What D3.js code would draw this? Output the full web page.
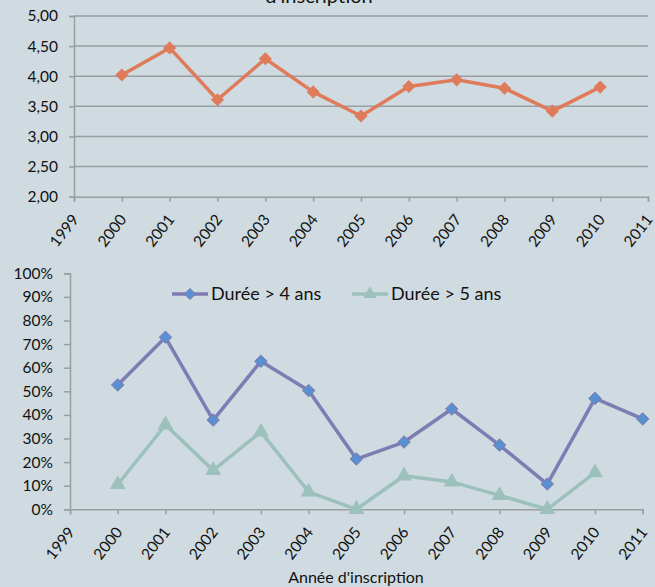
<!DOCTYPE html>
<html>
<head>
<meta charset="utf-8">
<script src="https://cdn.jsdelivr.net/npm/d3@7"></script>
<style>
  html, body { margin: 0; padding: 0; background: #cfdbe0; }
  svg { display: block; }
</style>
</head>
<body>
<div id="chart"></div>
<script>
const years = [2000, 2001, 2002, 2003, 2004, 2005, 2006, 2007, 2008, 2009, 2010, 2011];
const axisYears = [1999, 2000, 2001, 2002, 2003, 2004, 2005, 2006, 2007, 2008, 2009, 2010, 2011];

// moyenne (top chart), no value for 2011
const moyenne = [4.02, 4.47, 3.61, 4.29, 3.74, 3.34, 3.83, 3.94, 3.80, 3.42, 3.82, null];
const topTicks = [2.0, 2.5, 3.0, 3.5, 4.0, 4.5, 5.0];

const plus4 = [0.527, 0.729, 0.378, 0.627, 0.503, 0.213, 0.285, 0.425, 0.272, 0.107, 0.470, 0.383];
const plus5 = [0.105, 0.358, 0.165, 0.328, 0.074, 0.0, 0.142, 0.116, 0.059, 0.0, 0.155, null];
const pctTicks = [0, 0.1, 0.2, 0.3, 0.4, 0.5, 0.6, 0.7, 0.8, 0.9, 1.0];

const width = 655, height = 587;
const font = "Lato, 'Open Sans', sans-serif";
const orange = "#df7b5a";
const purple = "#7e7cb2";
const blueFill = "#5a8fd0";
const teal = "#9cc1bd";
const gridColor = "#9a9ea1";

const svg = d3.select("#chart").append("svg")
  .attr("width", width)
  .attr("height", height)
  .style("font-family", font);

svg.append("rect").attr("width", width).attr("height", height).attr("fill", "#cfdbe0");

// clipped title (only the lower part of its second line is visible)
svg.append("text")
  .attr("x", 319)
  .attr("y", 3)
  .attr("text-anchor", "middle")
  .style("font-size", "20px")
  .style("fill", "#111")
  .text("d'inscription");

function yearAxis(g, x, y0) {
  g.attr("transform", `translate(0,${y0})`)
    .call(d3.axisBottom(x).tickValues(axisYears).tickFormat(d3.format("d")).tickSize(5))
    .call(g => g.select(".domain").attr("stroke", gridColor).attr("stroke-width", 1.5))
    .call(g => g.selectAll(".tick line").attr("stroke", gridColor).attr("stroke-width", 1.5))
    .call(g => g.selectAll(".tick text")
      .attr("text-anchor", "end")
      .attr("dy", null)
      .attr("y", 0)
      .attr("transform", "translate(5,23) rotate(-52)")
      .style("font-size", "15.5px")
      .style("fill", "#111")
      .style("font-family", font));
}

// ---- top chart ----
const x1 = d3.scaleLinear().domain([1999, 2011]).range([74, 648]);
const y1 = d3.scaleLinear().domain([2, 5]).range([196.7, 16]);

svg.append("g")
  .selectAll("line")
  .data(topTicks.slice(1))
  .join("line")
  .attr("x1", x1(1999)).attr("x2", x1(2011))
  .attr("y1", d => y1(d)).attr("y2", d => y1(d))
  .attr("stroke", gridColor).attr("stroke-width", 1.5);

svg.append("g")
  .attr("transform", `translate(${x1(1999)},0)`)
  .call(d3.axisLeft(y1).tickValues(topTicks).tickFormat(d => d3.format(".2f")(d).replace(".", ",")).tickSize(5))
  .call(g => g.select(".domain").attr("stroke", gridColor).attr("stroke-width", 1.5))
  .call(g => g.selectAll(".tick line").attr("stroke", gridColor).attr("stroke-width", 1.5))
  .call(g => g.selectAll(".tick text").attr("x", -16).style("font-size", "15.5px").style("fill", "#111").style("font-family", font));

svg.append("g").call(yearAxis, x1, y1(2));

const topData = years.map((yr, i) => ({ yr, v: moyenne[i] })).filter(d => d.v != null);

svg.append("path")
  .datum(topData)
  .attr("fill", "none")
  .attr("stroke", orange)
  .attr("stroke-width", 3.5)
  .attr("stroke-linejoin", "round")
  .attr("d", d3.line().x(d => x1(d.yr)).y(d => y1(d.v)));

svg.append("g")
  .selectAll("path")
  .data(topData)
  .join("path")
  .attr("transform", d => `translate(${x1(d.yr)},${y1(d.v)})`)
  .attr("d", d3.symbol(d3.symbolDiamond2, 110)())
  .attr("fill", orange);

// ---- bottom chart ----
const x2 = d3.scaleLinear().domain([1999, 2011]).range([70, 642.7]);
const y2 = d3.scaleLinear().domain([0, 1]).range([509.3, 273.3]);

svg.append("g")
  .attr("transform", `translate(${x2(1999)},0)`)
  .call(d3.axisLeft(y2).tickValues(pctTicks).tickFormat(d3.format(".0%")).tickSize(6))
  .call(g => g.select(".domain").attr("stroke", gridColor).attr("stroke-width", 1.5))
  .call(g => g.selectAll(".tick line").attr("stroke", gridColor).attr("stroke-width", 1.5))
  .call(g => g.selectAll(".tick text").attr("x", -17).style("font-size", "15.5px").style("fill", "#111").style("font-family", font));

svg.append("g").call(yearAxis, x2, y2(0));

const d4 = years.map((yr, i) => ({ yr, v: plus4[i] })).filter(d => d.v != null);
const d5 = years.map((yr, i) => ({ yr, v: plus5[i] })).filter(d => d.v != null);
const line2 = d3.line().x(d => x2(d.yr)).y(d => y2(d.v));

svg.append("path")
  .datum(d5)
  .attr("fill", "none")
  .attr("stroke", teal)
  .attr("stroke-width", 3.5)
  .attr("stroke-linejoin", "round")
  .attr("d", line2);

svg.append("g")
  .selectAll("path")
  .data(d5)
  .join("path")
  .attr("transform", d => `translate(${x2(d.yr)},${y2(d.v)})`)
  .attr("d", d3.symbol(d3.symbolTriangle, 110)())
  .attr("fill", teal);

svg.append("path")
  .datum(d4)
  .attr("fill", "none")
  .attr("stroke", purple)
  .attr("stroke-width", 3.5)
  .attr("stroke-linejoin", "round")
  .attr("d", line2);

svg.append("g")
  .selectAll("path")
  .data(d4)
  .join("path")
  .attr("transform", d => `translate(${x2(d.yr)},${y2(d.v)})`)
  .attr("d", d3.symbol(d3.symbolDiamond2, 100)())
  .attr("fill", blueFill)
  .attr("stroke", purple)
  .attr("stroke-width", 1);

// legend
const legend = [
  { name: "Durée > 4 ans", x: 172, color: purple, sym: d3.symbolDiamond2, fill: blueFill },
  { name: "Durée > 5 ans", x: 352, color: teal, sym: d3.symbolTriangle, fill: teal }
];
const lg = svg.append("g").selectAll("g").data(legend).join("g")
  .attr("transform", d => `translate(${d.x},294)`);
lg.append("line").attr("x1", 0).attr("x2", 36).attr("stroke", d => d.color).attr("stroke-width", 3.5);
lg.append("path").attr("transform", "translate(18,0)")
  .attr("d", d => d3.symbol(d.sym, 80)())
  .attr("fill", d => d.fill)
  .attr("stroke", d => d.sym === d3.symbolDiamond2 ? purple : "none");
lg.append("text").attr("x", 39).attr("dy", "0.35em")
  .style("font-size", "18px").style("fill", "#111")
  .text(d => d.name);

// x axis title
svg.append("text")
  .attr("x", 356)
  .attr("y", 583)
  .attr("text-anchor", "middle")
  .style("font-size", "16px")
  .style("fill", "#111")
  .text("Année d'inscription");
</script>
</body>
</html>
